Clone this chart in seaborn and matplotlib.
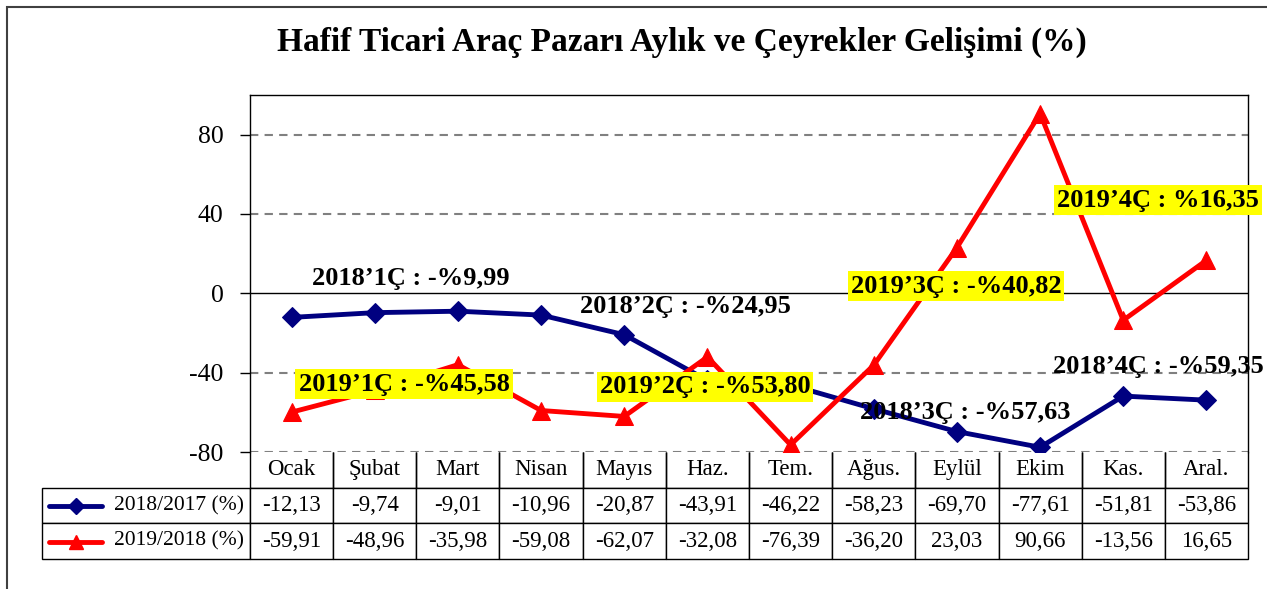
import numpy as np
import pandas as pd
import matplotlib
matplotlib.use("Agg")
import matplotlib.pyplot as plt
from matplotlib.patches import Rectangle
import seaborn as sns

months = ['Ocak', 'Şubat', 'Mart', 'Nisan', 'Mayıs', 'Haz.', 'Tem.', 'Ağus.', 'Eylül', 'Ekim', 'Kas.', 'Aral.']
series_names = ['2018/2017 (%)', '2019/2018 (%)']
s2018 = [-12.13, -9.74, -9.01, -10.96, -20.87, -43.91, -46.22, -58.23, -69.70, -77.61, -51.81, -53.86]
s2019 = [-59.91, -48.96, -35.98, -59.08, -62.07, -32.08, -76.39, -36.20, 23.03, 90.66, -13.56, 16.65]
quarter_labels = ["2018’1Ç : -%9,99", "2018’2Ç : -%24,95", "2018’3Ç : -%57,63", "2018’4Ç : -%59,35",
                  "2019’1Ç : -%45,58", "2019’2Ç : -%53,80", "2019’3Ç : -%40,82", "2019’4Ç : %16,35"]
yticks = [-80, -40, 0, 40, 80]

sns.set_style('white')
plt.rcParams['font.family'] = ['Liberation Serif', 'DejaVu Serif']
plt.rcParams['text.color'] = 'black'
plt.rcParams['ytick.color'] = 'black'
plt.rcParams['xtick.color'] = 'black'
plt.rcParams['axes.labelcolor'] = 'black'

W, H = 1267, 589
fig = plt.figure(figsize=(W / 100, H / 100), dpi=100)
# plot area in pixels
L, R, T, B = 250, 1248, 95, 452
ax = fig.add_axes([L / W, 1 - B / H, (R - L) / W, (B - T) / H])

navy = '#000080'
red = '#FF0000'
x = np.arange(len(months))
df = pd.DataFrame({'x': np.concatenate([x, x]),
                   'v': s2018 + s2019,
                   's': [series_names[0]] * 12 + [series_names[1]] * 12})
sns.lineplot(data=df[df.s == series_names[0]], x='x', y='v', color=navy, lw=3.5,
             marker='D', markersize=10, markeredgecolor=navy, ax=ax, legend=False, zorder=3)
sns.lineplot(data=df[df.s == series_names[1]], x='x', y='v', color=red, lw=3.5,
             marker='^', markersize=13, markeredgecolor=red, ax=ax, legend=False, zorder=4)

ax.set_xlim(-0.5, 11.5)
ax.set_ylim(-80, 100)
ax.set_yticks(yticks)
ax.set_yticklabels([str(t) for t in yticks])
ax.set_xticks([])
ax.set_xlabel('')
ax.set_ylabel('')
ax.tick_params(axis='y', left=True, length=7, width=1, direction='out', labelsize=18.5, pad=12,
               color='black', labelcolor='black')
for t in [-80, -40, 40, 80]:
    ax.axhline(t, color='#808080', lw=1.5, ls=(0, (4, 3)), zorder=1)
ax.axhline(0, color='black', lw=1, zorder=1)
for side in ['left', 'top', 'right']:
    ax.spines[side].set_color('black')
    ax.spines[side].set_linewidth(1)
ax.spines['bottom'].set_visible(False)

# quarterly annotations (positions in pixels -> axes fraction)
def to_ax(px, py):
    return (px - L) / (R - L), (B - py) / (B - T)

ann_pos = [(411, 278), (685, 307), (965, 412), (1158, 366),
           (404, 384), (705, 387), (956, 286), (1158, 200)]
for lab, (px, py) in zip(quarter_labels, ann_pos):
    xa, ya = to_ax(px, py)
    kw = {}
    if lab.startswith('2019'):
        kw['bbox'] = dict(boxstyle='square,pad=0.12', facecolor='#FFFF00', edgecolor='none')
    ax.text(xa, ya, lab, transform=ax.transAxes, ha='center', va='center',
            fontsize=19, fontweight='bold', color='black', zorder=6, clip_on=False, **kw)

# data table
def fmt(v):
    return f"{v:.2f}".replace('.', ',')

cell_text = [[series_names[0]] + [fmt(v) for v in s2018],
             [series_names[1]] + [fmt(v) for v in s2019]]
col_labels = [''] + months
lab_w = 208
col_w = (R - L) / 12
tbl_bottom = 559
tbl = ax.table(cellText=cell_text, colLabels=col_labels,
               colWidths=[lab_w / (R - L)] + [col_w / (R - L)] * 12,
               bbox=[-lab_w / (R - L), -(tbl_bottom - B) / (B - T), (lab_w + R - L) / (R - L), (tbl_bottom - B) / (B - T)],
               cellLoc='center')
tbl.auto_set_font_size(False)
for (r, c), cell in tbl.get_celld().items():
    cell.set_fontsize(16.5)
    cell.set_linewidth(1)
    cell.set_edgecolor('black')
    cell.get_text().set_color('black')
    cell.get_text().set_fontfamily(['Liberation Serif', 'DejaVu Serif'])
    if r == 0 and c == 0:
        cell.visible_edges = ''
    elif r == 0:
        cell.visible_edges = 'BRL'
    if r > 0 and c == 0:
        cell.set_fontsize(15.5)
        cell.get_text().set_ha('right')
        cell._loc = 'right'
        cell.PAD = 0.03

# legend keys inside the table label cells
row_centers = [506, 541.5]
for yc, col, mk, ms in zip(row_centers, [navy, red], ['D', '^'], [8, 10]):
    x0, yk = to_ax(49, yc)
    x1, _ = to_ax(102, yc)
    xm, _ = to_ax(76, yc)
    ax.plot([x0, x1], [yk, yk], color=col, lw=3.5, transform=ax.transAxes, clip_on=False,
            solid_capstyle='round', zorder=7)
    ax.plot([xm], [yk], color=col, marker=mk, markersize=ms, transform=ax.transAxes,
            clip_on=False, zorder=7)

# title
fig.text(682 / W, 1 - 42 / H, 'Hafif Ticari Araç Pazarı Aylık ve Çeyrekler Gelişimi (%)',
         ha='center', va='center', fontsize=24, fontweight='bold', color='black')

# outer frame
fig.patches.append(Rectangle((7 / W, -0.5), 2, 1.5 - 7 / H, transform=fig.transFigure,
                             fill=False, edgecolor='#404040', lw=1.5))

fig.savefig('out.png', dpi=100)
